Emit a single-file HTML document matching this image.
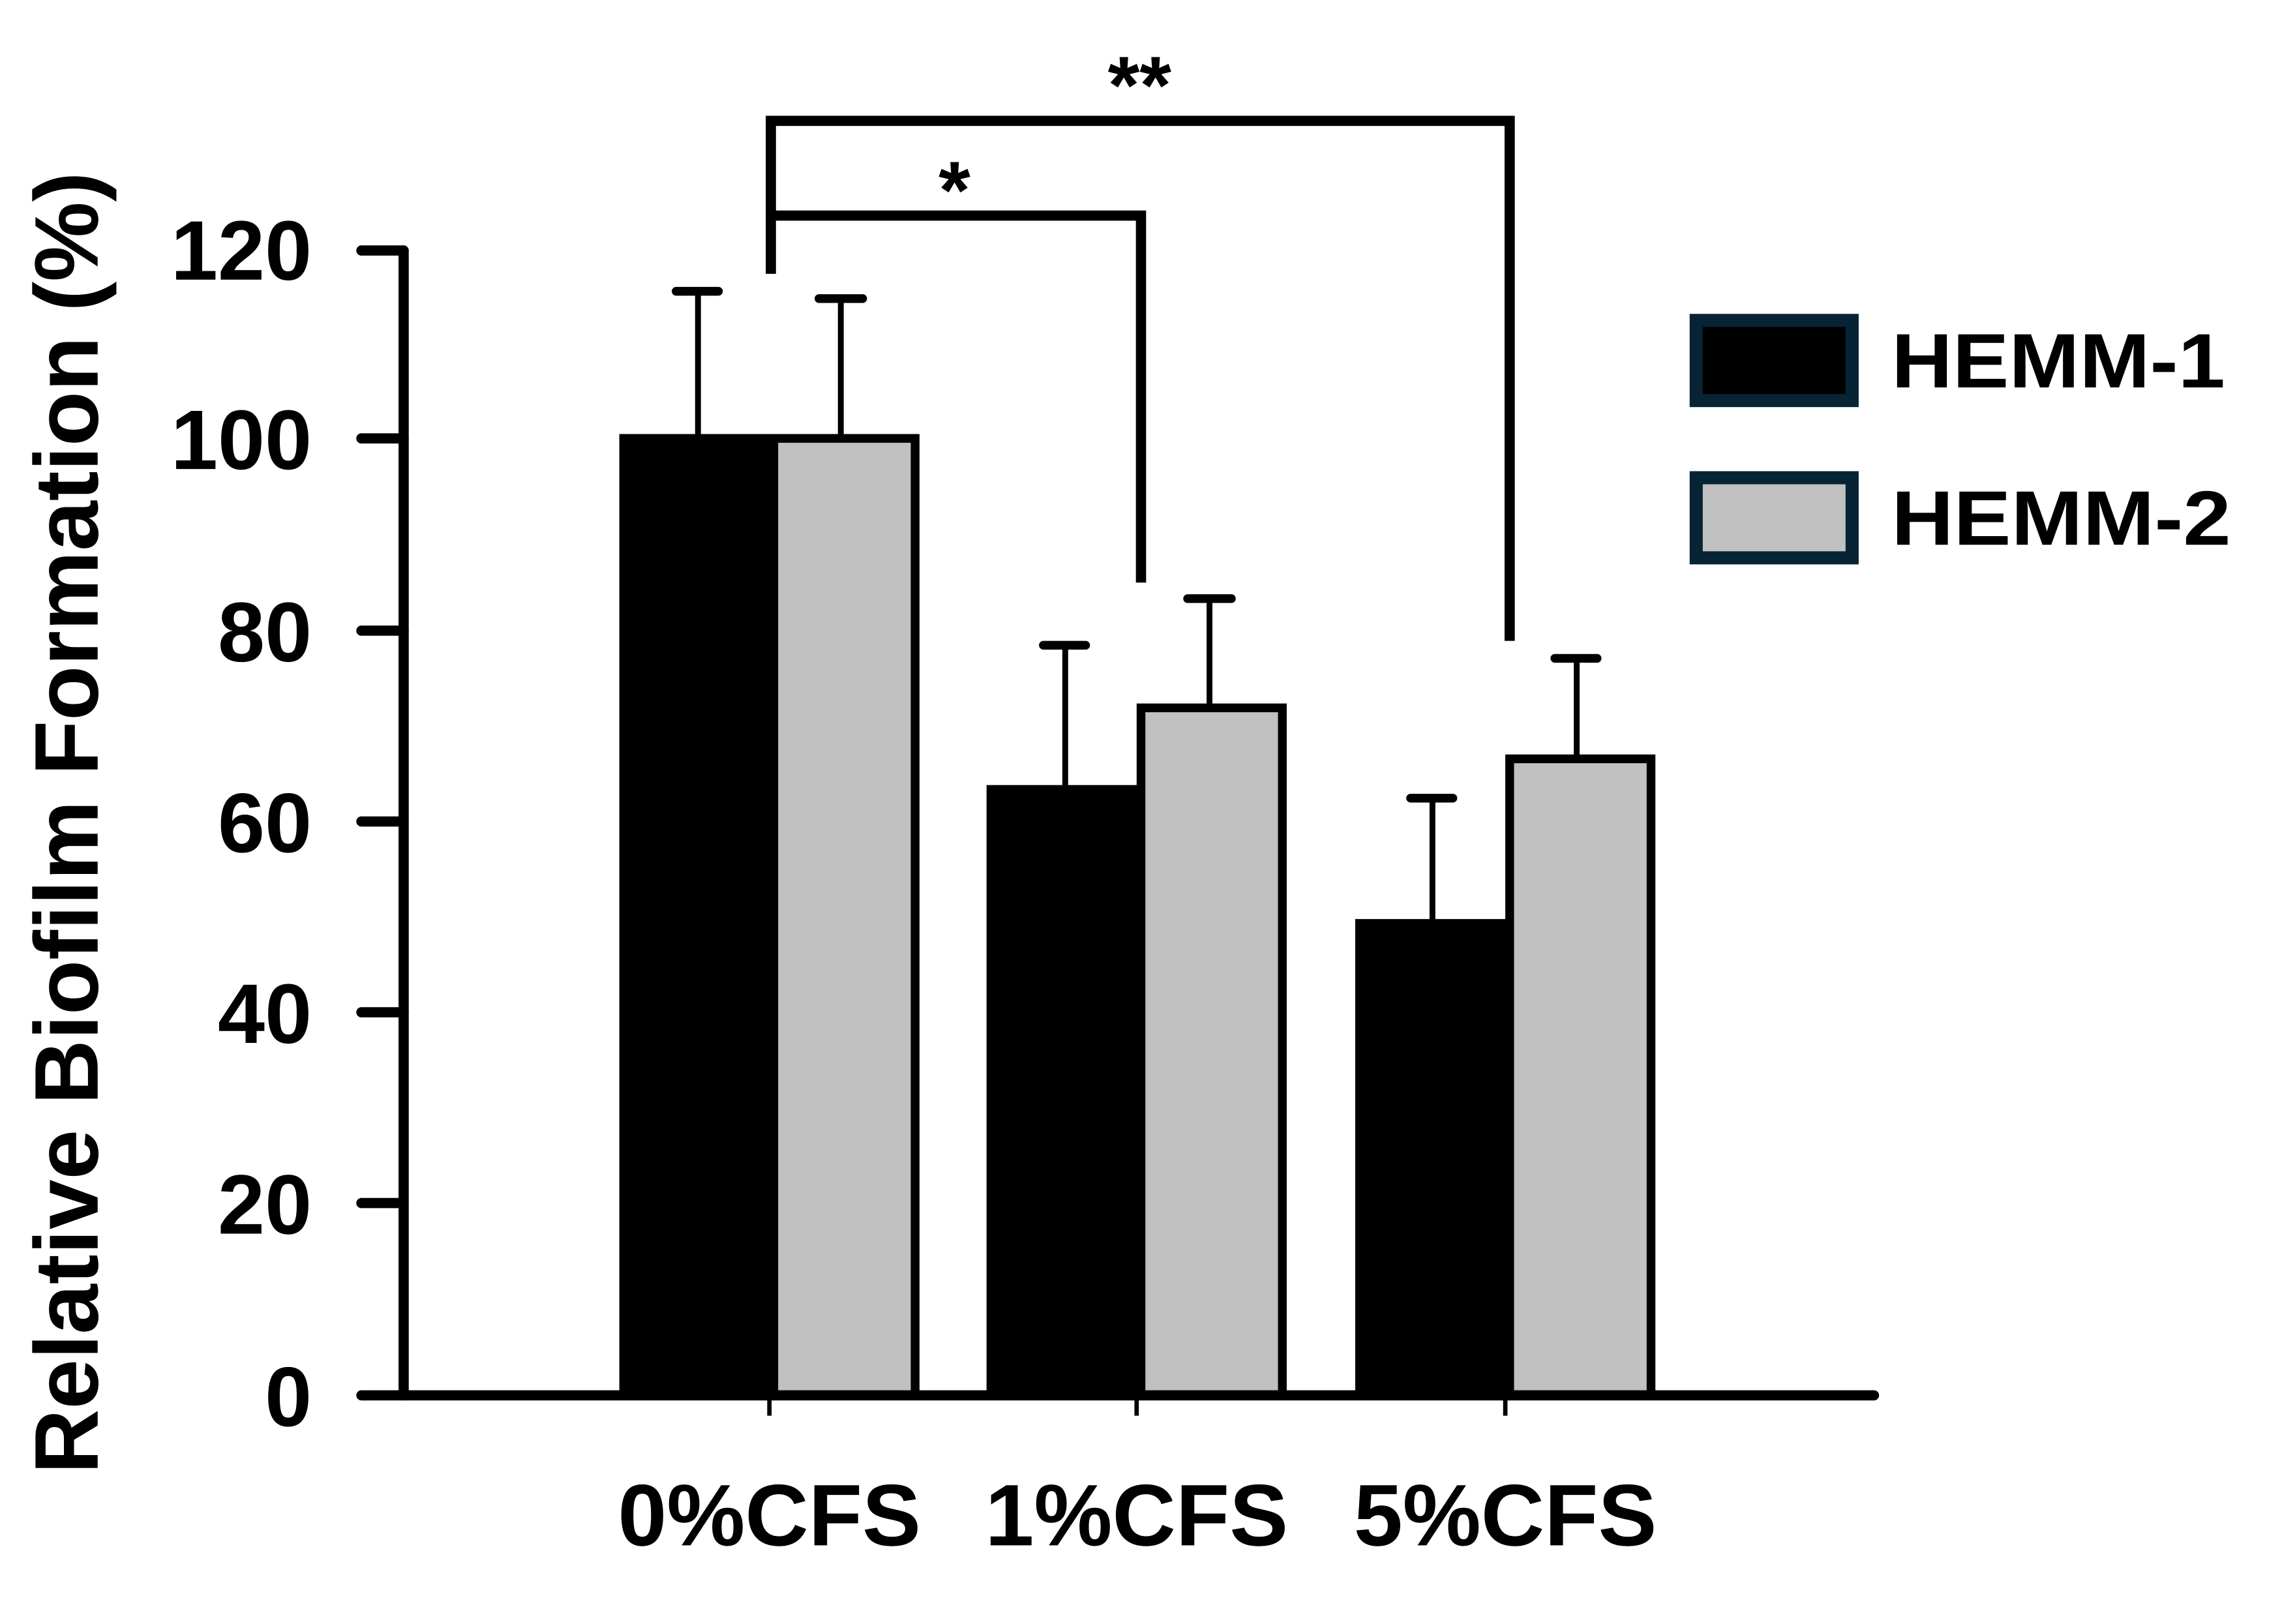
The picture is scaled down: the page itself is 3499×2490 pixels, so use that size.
<!DOCTYPE html>
<html><head><meta charset="utf-8"><style>html,body{margin:0;padding:0;background:#fff;width:3499px;height:2490px;overflow:hidden}svg{display:block;overflow:hidden}</style></head>
<body>
<svg width="3499" height="2490" viewBox="0 0 1566 1115" preserveAspectRatio="none" xmlns="http://www.w3.org/2000/svg" font-family="Liberation Sans, Arial, sans-serif" font-weight="bold">
<rect width="1566" height="1115" fill="#fff"/>
<!-- error bars -->
<g stroke="#000" stroke-width="4">
<line x1="479" y1="301" x2="479" y2="200"/><line x1="577" y1="301" x2="577" y2="205"/>
<line x1="731" y1="540" x2="731" y2="443"/><line x1="830" y1="485" x2="830" y2="411"/>
<line x1="983" y1="632" x2="983" y2="548"/><line x1="1082" y1="521" x2="1082" y2="452"/>
</g>
<g stroke="#000" stroke-width="6" stroke-linecap="round">
<line x1="464" y1="200" x2="493" y2="200"/><line x1="562" y1="205" x2="592" y2="205"/>
<line x1="716" y1="443" x2="745" y2="443"/><line x1="815" y1="411" x2="845" y2="411"/>
<line x1="968" y1="548" x2="997" y2="548"/><line x1="1067" y1="452" x2="1096" y2="452"/>
</g>
<!-- bars -->
<g stroke="#000" stroke-width="6">
<rect x="428" y="301" width="100" height="657" fill="#000"/>
<rect x="531" y="301" width="97" height="657" fill="#c0c0c0"/>
<rect x="680" y="542" width="100" height="416" fill="#000"/>
<rect x="783" y="486" width="97" height="472" fill="#c0c0c0"/>
<rect x="933" y="634" width="100" height="324" fill="#000"/>
<rect x="1036" y="521" width="97" height="437" fill="#c0c0c0"/>
</g>
<!-- axes -->
<g stroke="#000" stroke-width="7" stroke-linecap="round">
<line x1="277" y1="172" x2="277" y2="958"/>
<line x1="248" y1="958" x2="1286" y2="958"/>
<line x1="248" y1="172" x2="277" y2="172"/>
<line x1="248" y1="301" x2="277" y2="301"/>
<line x1="248" y1="433" x2="277" y2="433"/>
<line x1="248" y1="564" x2="277" y2="564"/>
<line x1="248" y1="695" x2="277" y2="695"/>
<line x1="248" y1="826" x2="277" y2="826"/>
</g>
<g stroke="#000" stroke-width="3">
<line x1="528" y1="958" x2="528" y2="972"/><line x1="780" y1="958" x2="780" y2="972"/><line x1="1033" y1="958" x2="1033" y2="972"/>
</g>
<!-- y tick labels -->
<g font-size="58" text-anchor="end">
<text x="214" y="192">120</text><text x="214" y="322">100</text><text x="214" y="454">80</text>
<text x="214" y="585">60</text><text x="214" y="716">40</text><text x="214" y="847">20</text><text x="214" y="979">0</text>
</g>
<!-- x labels -->
<g font-size="60">
<text x="424" y="1061" textLength="208" lengthAdjust="spacingAndGlyphs">0%CFS</text>
<text x="676" y="1061" textLength="208" lengthAdjust="spacingAndGlyphs">1%CFS</text>
<text x="929" y="1061" textLength="208" lengthAdjust="spacingAndGlyphs">5%CFS</text>
</g>
<!-- y title -->
<text transform="translate(67,1012) rotate(-90)" font-size="62" textLength="894" lengthAdjust="spacingAndGlyphs">Relative Biofilm Formation (%)</text>
<!-- brackets -->
<g fill="none" stroke="#000" stroke-width="7">
<polyline points="529,188 529,83 1036,83 1036,440"/>
<polyline points="531,148 783,148 783,400"/>
</g>
<text x="782" y="78" font-size="56" text-anchor="middle">**</text>
<text x="655" y="150" font-size="56" text-anchor="middle">*</text>
<!-- legend -->
<rect x="1164" y="220" width="107" height="55" fill="#000" stroke="#072435" stroke-width="9"/>
<rect x="1164" y="328" width="107" height="55" fill="#c0c0c0" stroke="#072435" stroke-width="9"/>
<text x="1298" y="266" font-size="53" textLength="229" lengthAdjust="spacingAndGlyphs">HEMM-1</text>
<text x="1298" y="374" font-size="53" textLength="233" lengthAdjust="spacingAndGlyphs">HEMM-2</text>
</svg>
</body></html>
